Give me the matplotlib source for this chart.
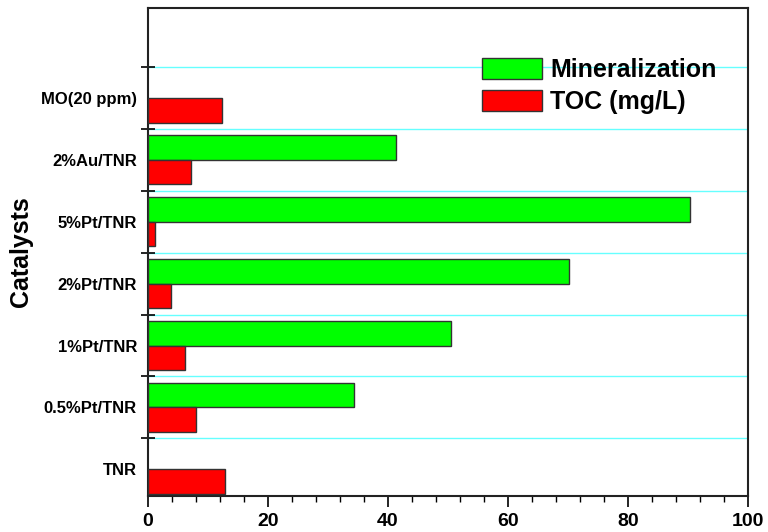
import matplotlib
matplotlib.use("Agg")
import matplotlib.pyplot as plt
from matplotlib.ticker import MultipleLocator, FixedLocator
from matplotlib.patches import Patch
import numpy as np

plt.rcParams['font.family'] = ['Liberation Sans', 'DejaVu Sans']
plt.rcParams['font.weight'] = 'bold'

catalysts = ["TNR", "0.5%Pt/TNR", "1%Pt/TNR", "2%Pt/TNR", "5%Pt/TNR", "2%Au/TNR", "MO(20 ppm)"]
mineralization = [0, 34.4, 50.5, 70.1, 90.4, 41.4, 0]
toc = [12.8, 8.0, 6.2, 3.8, 1.1, 7.1, 12.4]

green = "#00ff00"
red = "#ff0000"
edge = "#333333"

fig = plt.figure(figsize=(7.68, 5.32), dpi=100)
ax = fig.add_axes([148 / 768, 1 - 496 / 532, 600 / 768, 488 / 532])

y = np.arange(len(catalysts))
h = 0.4
b1 = ax.barh(y + h / 2, mineralization, height=h, color=green, edgecolor=edge,
             linewidth=1.0, zorder=3)
b2 = ax.barh(y - h / 2, toc, height=h, color=red, edgecolor=edge,
             linewidth=1.0, zorder=3)

# hide zero-length bars
for rect, v in zip(b1, mineralization):
    if v == 0:
        rect.set_visible(False)

ax.set_xlim(0, 100)
ax.set_ylim(-0.43, 7.45)

# boundaries between catalyst groups
bounds = np.arange(len(catalysts)) + 0.5
for b in bounds:
    ax.axhline(b, color="#66ffff", lw=1.0, zorder=1)

ax.set_yticks(y)
ax.set_yticklabels(catalysts, fontsize=12, fontweight='bold')
ax.yaxis.set_minor_locator(FixedLocator(bounds))
ax.tick_params(axis='y', which='major', length=0, pad=8)
ax.tick_params(axis='y', which='minor', direction='inout', length=10, width=1.2)

ax.xaxis.set_major_locator(MultipleLocator(20))
ax.xaxis.set_minor_locator(MultipleLocator(4))
ax.tick_params(axis='x', which='major', direction='out', length=8, width=1.2,
               labelsize=14, pad=4)
ax.tick_params(axis='x', which='minor', direction='out', length=4, width=1.0)
for lab in ax.get_xticklabels():
    lab.set_fontweight('bold')

for s in ax.spines.values():
    s.set_linewidth(1.5)
    s.set_color("#222222")

ax.set_ylabel("Catalysts", fontsize=18, fontweight='bold', labelpad=6)

handles = [Patch(facecolor=green, edgecolor=edge, label="Mineralization"),
           Patch(facecolor=red, edgecolor=edge, label="TOC (mg/L)")]
ax.legend(handles=handles, loc='upper left', bbox_to_anchor=(0.556, 0.897),
          frameon=False, borderpad=0, borderaxespad=0,
          prop={'size': 18, 'weight': 'bold'}, handlelength=2.4, handleheight=0.9,
          handletextpad=0.35, labelspacing=0.32)

fig.savefig("out.png", dpi=100)
